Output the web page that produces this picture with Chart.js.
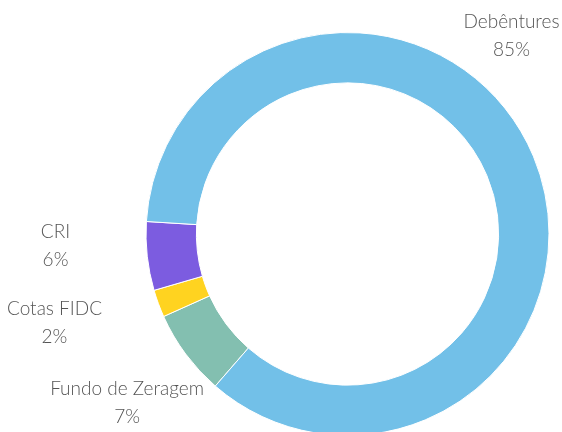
<!DOCTYPE html>
<html>
<head>
<meta charset="utf-8">
<script src="https://cdn.jsdelivr.net/npm/chart.js@4"></script>
<style>
html,body{margin:0;padding:0;background:#fff;overflow:hidden;}
#wrap{width:562px;height:432px;overflow:hidden;}
</style>
</head>
<body>
<div id="wrap"><canvas id="c" width="562" height="440"></canvas></div>
<script>
// Data (clockwise order starting at the lower-left)
const categories = ['Fundo de Zeragem', 'Cotas FIDC', 'CRI', 'Debêntures'];
const shares = [6.9, 2.2, 5.5, 85.4];
const pctLabels = ['7%', '2%', '6%', '85%'];
const colors = ['#83BFB0', '#FFD320', '#7C5CE0', '#72C0E8'];

// label anchor offsets, in units of the outer radius, relative to the centre
const labelLayout = [
  {dx: -1.094, dy: 0.836},
  {dx: -1.454, dy: 0.440},
  {dx: -1.449, dy: 0.058},
  {dx: 0.814, dy: -0.983}
];

const labelPlugin = {
  id: 'sliceLabels',
  afterDatasetsDraw(chart) {
    const ctx = chart.ctx;
    const meta = chart.getDatasetMeta(0);
    ctx.save();
    ctx.font = '300 19px Lato, "Open Sans", sans-serif';
    ctx.fillStyle = '#555555';
    ctx.textAlign = 'center';
    ctx.textBaseline = 'middle';
    meta.data.forEach((arc, i) => {
      const r = arc.outerRadius;
      const x = arc.x + labelLayout[i].dx * r;
      const y = arc.y + labelLayout[i].dy * r;
      ctx.fillText(categories[i], x, y - 14);
      ctx.fillText(pctLabels[i], x, y + 14);
    });
    ctx.restore();
  }
};

new Chart(document.getElementById('c'), {
  type: 'doughnut',
  data: {
    labels: categories,
    datasets: [{
      data: shares,
      backgroundColor: colors,
      borderColor: '#ffffff',
      borderWidth: 1
    }]
  },
  options: {
    responsive: false,
    animation: false,
    rotation: 221,
    cutout: '75%',
    layout: {padding: {left: 145.5, right: 12.5, top: 32, bottom: 4}},
    plugins: {
      legend: {display: false},
      tooltip: {enabled: false}
    }
  },
  plugins: [labelPlugin]
});
</script>
</body>
</html>
